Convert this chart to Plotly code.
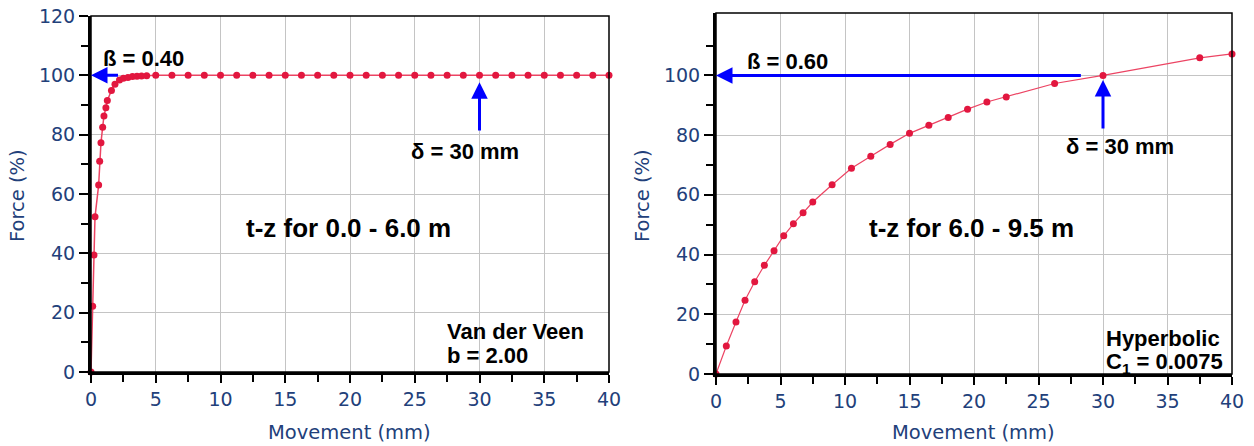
import plotly.graph_objects as go

# ---------------- data ----------------
left_x = [0, 0.13, 0.23, 0.31, 0.59, 0.67, 0.77, 0.9, 1.0, 1.15, 1.26, 1.58, 1.85, 2.2, 2.5,
          2.85, 3.2, 3.55, 3.9, 4.3, 5.0, 6.25, 7.5, 8.75, 10.0, 11.25, 12.5, 13.75, 15.0,
          16.25, 17.5, 18.75, 20.0, 21.25, 22.5, 23.75, 25.0, 26.25, 27.5, 28.75, 30.0,
          31.25, 32.5, 33.75, 35.0, 36.25, 37.5, 38.75, 40.0]
left_y = [0, 22.2, 39.4, 52.3, 63.0, 71.0, 77.3, 82.5, 86.3, 89.1, 91.5, 94.9, 97.0, 98.4, 99.0,
          99.3, 99.6, 99.7, 99.8, 99.9, 100, 100, 100, 100, 100, 100, 100, 100, 100,
          100, 100, 100, 100, 100, 100, 100, 100, 100, 100, 100, 100,
          100, 100, 100, 100, 100, 100, 100, 100]

right_x = [0, 0.8, 1.55, 2.25, 3.0, 3.75, 4.5, 5.25, 6.0, 6.75, 7.5, 9.0, 10.5, 12.0, 13.5,
           15.0, 16.5, 18.0, 19.5, 21.0, 22.5, 26.25, 30.0, 37.5, 40.0]
right_y = [0, 9.4, 17.4, 24.7, 30.9, 36.4, 41.3, 46.3, 50.3, 54.0, 57.6, 63.4, 68.9, 72.9, 76.9,
           80.6, 83.3, 85.9, 88.7, 91.1, 92.8, 97.3, 100.0, 105.9, 107.2]

x_ticks = [0, 5, 10, 15, 20, 25, 30, 35, 40]
left_y_ticks = [0, 20, 40, 60, 80, 100, 120]
right_y_ticks = [0, 20, 40, 60, 80, 100]

left_title = "t-z for 0.0 - 6.0 m"
right_title = "t-z for 6.0 - 9.5 m"
left_model = ["Van der Veen", "b = 2.00"]
right_model = ["Hyperbolic", "C<sub>1</sub> = 0.0075"]
left_beta = "ß = 0.40"
right_beta = "ß = 0.60"
delta_label = "δ = 30 mm"

# ---------------- styles ----------------
RED = "#E2173F"
LINE_RED = "#EC4463"
BLUE = "#0000FF"
TICK_COL = "#22407A"
GRID = "#C4C4C4"
ANN_FONT = "Liberation Sans, Arial, sans-serif"
TICK_FONT = "DejaVu Sans, Verdana, sans-serif"

fig = go.Figure()
fig.add_trace(go.Scatter(x=left_x, y=left_y, mode="lines+markers",
                         line=dict(color=LINE_RED, width=1.5),
                         marker=dict(color=RED, size=7),
                         cliponaxis=False, xaxis="x", yaxis="y", showlegend=False))
fig.add_trace(go.Scatter(x=right_x, y=right_y, mode="lines+markers",
                         line=dict(color=LINE_RED, width=1.2),
                         marker=dict(color=RED, size=7),
                         cliponaxis=False, xaxis="x2", yaxis="y2", showlegend=False))

def xaxis_cfg(domain):
    return dict(domain=domain, range=[0, 40], tickvals=x_ticks, ticks="outside", ticklen=8,
                tickwidth=2, tickcolor="black", showline=True, linecolor="black", linewidth=3,
                showgrid=True, gridcolor=GRID, gridwidth=1, zeroline=False, automargin=False,
                tickfont=dict(family=TICK_FONT, size=19, color=TICK_COL),
                minor=dict(dtick=2.5, tick0=0, ticks="outside", ticklen=7, tickwidth=2,
                           tickcolor="black", showgrid=False),
                fixedrange=True)

def yaxis_cfg(domain, rng, tv, anchor, minor_vals):
    return dict(domain=domain, range=rng, tickvals=tv, ticks="outside", ticklen=9,
                tickwidth=2, tickcolor="black", showline=True, linecolor="black", linewidth=3,
                showgrid=True, gridcolor=GRID, gridwidth=1, zeroline=False, anchor=anchor,
                automargin=False,
                tickfont=dict(family=TICK_FONT, size=19, color=TICK_COL),
                minor=dict(tickvals=minor_vals, ticks="outside", ticklen=7, tickwidth=2,
                           tickcolor="black", showgrid=False),
                fixedrange=True)

LX = [91 / 1254, 609 / 1254]
RX = [716 / 1254, 1232 / 1254]
LY = [1 - 372 / 446, 1 - 16 / 446]
RY = [1 - 374 / 446, 1 - 13 / 446]

fig.update_layout(
    width=1254, height=446, margin=dict(l=0, r=0, t=0, b=0, autoexpand=False),
    paper_bgcolor="white", plot_bgcolor="white",
    xaxis=dict(**xaxis_cfg(LX), anchor="y"),
    yaxis=yaxis_cfg(LY, [0, 120], left_y_ticks, "x", [10, 30, 50, 70, 90, 110]),
    xaxis2=dict(**xaxis_cfg(RX), anchor="y2"),
    yaxis2=yaxis_cfg(RY, [0, 120.9], right_y_ticks, "x2", [10, 30, 50, 70, 90, 110]),
)

# thin frame (top / right) for both plots
for xr, yr in [("x", "y"), ("x2", "y2")]:
    fig.add_shape(type="rect", xref=f"{xr} domain", yref=f"{yr} domain", x0=0, x1=1, y0=0, y1=1,
                  line=dict(color="black", width=1.5), layer="above")

annotations = []

def text(x, y, s, xref, yref, size=22, xanchor="center", bold=True):
    annotations.append(dict(x=x, y=y, xref=xref, yref=yref, text=f"<b>{s}</b>" if bold else s,
                            showarrow=False, xanchor=xanchor, yanchor="middle",
                            font=dict(family=ANN_FONT, size=size, color="black")))

def arrow(xh, yh, xt, yt, xref, yref):
    annotations.append(dict(x=xh, y=yh, ax=xt, ay=yt, xref=xref, yref=yref, axref=xref, ayref=yref,
                            text="", showarrow=True, arrowhead=2, arrowsize=1.1, arrowwidth=3,
                            arrowcolor=BLUE, standoff=0, startstandoff=0))

# left chart
arrow(0, 100, 2.2, 100, "x", "y")
arrow(30, 97.7, 30, 80.9, "x", "y")
text(0.77, 105.8, left_beta, "x", "y", xanchor="left")
text(28.9, 74.3, delta_label, "x", "y")
text(19.9, 48.5, left_title, "x", "y", size=26)
text(27.3, 13.6, left_model[0], "x", "y", xanchor="left")
text(27.3, 5.4, left_model[1], "x", "y", xanchor="left")

# right chart
arrow(0, 100, 28.4, 100, "x2", "y2")
arrow(30, 98.5, 30, 81.7, "x2", "y2")
text(2.25, 104.6, right_beta, "x2", "y2", xanchor="left")
text(31.3, 76.1, delta_label, "x2", "y2")
text(19.83, 48.9, right_title, "x2", "y2", size=26)
text(30.08, 12.05, right_model[0], "x2", "y2", xanchor="left")
text(30.08, 3.7, right_model[1], "x2", "y2", xanchor="left")

# axis titles
for xc in [349 / 1254, 973.5 / 1254]:
    annotations.append(dict(x=xc, y=1 - 432 / 446, xref="paper", yref="paper", text="Movement (mm)",
                            showarrow=False, xanchor="center", yanchor="middle",
                            font=dict(family=TICK_FONT, size=19.5, color=TICK_COL)))
for xc in [18 / 1254, 643 / 1254]:
    annotations.append(dict(x=xc, y=1 - 196 / 446, xref="paper", yref="paper", text="Force (%)",
                            showarrow=False, xanchor="center", yanchor="middle", textangle=-90,
                            font=dict(family=TICK_FONT, size=19.5, color=TICK_COL)))

fig.update_layout(annotations=annotations)
fig.write_html("out.html")
